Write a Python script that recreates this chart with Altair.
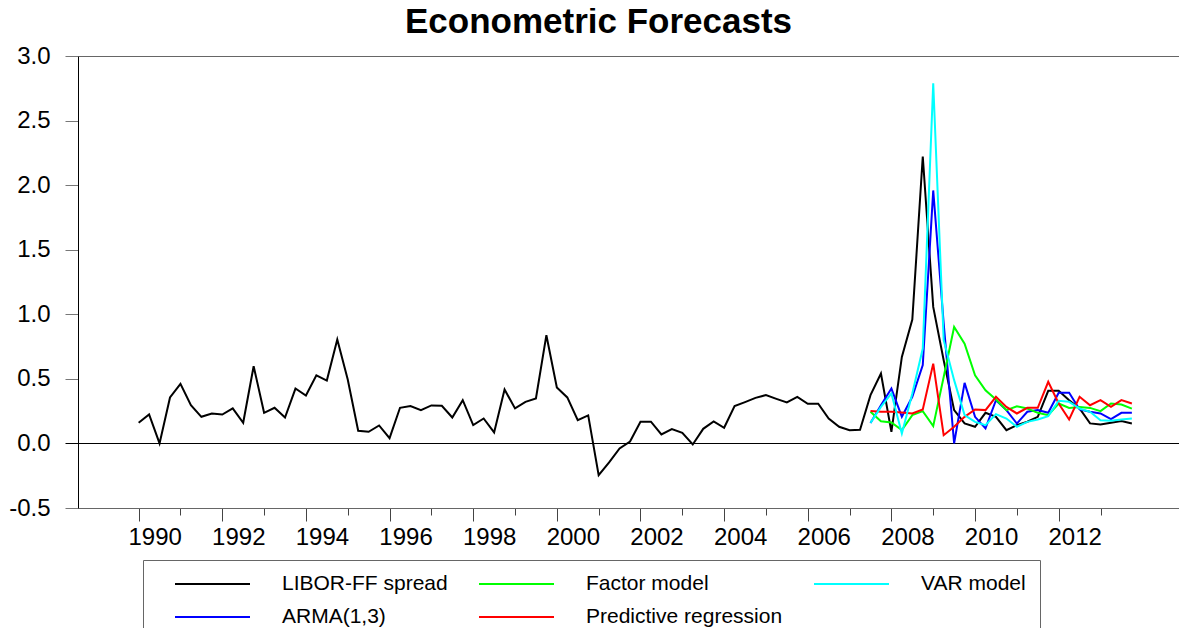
import altair as alt
import pandas as pd

START_YEAR = 1990
FC_START = 70  # index of first forecast quarter (2007Q3)

libor = [0.160, 0.224, 0.000, 0.356, 0.461, 0.296, 0.206, 0.232, 0.224, 0.271,
         0.160, 0.598, 0.237, 0.276, 0.201, 0.425, 0.371, 0.528, 0.487, 0.804,
         0.495, 0.098, 0.090, 0.139, 0.041, 0.276, 0.289, 0.258, 0.294, 0.291,
         0.201, 0.335, 0.142, 0.193, 0.085, 0.418, 0.271, 0.322, 0.348, 0.838,
         0.433, 0.356, 0.180, 0.217, -0.245, -0.147, -0.039, 0.015, 0.168, 0.168,
         0.070, 0.111, 0.082, -0.008, 0.113, 0.170, 0.121, 0.289, 0.320, 0.353,
         0.374, 0.345, 0.317, 0.361, 0.307, 0.307, 0.193, 0.129, 0.103, 0.106,
         0.374, 0.541, 0.090, 0.670, 0.959, 2.222, 1.057, 0.644, 0.258, 0.155,
         0.129, 0.237, 0.206, 0.103, 0.142, 0.168, 0.206, 0.407, 0.407, 0.335,
         0.271, 0.155, 0.147, 0.160, 0.173, 0.155]

arma = [0.159, 0.296, 0.425, 0.206, 0.361, 0.606, 1.959, 0.930, 0.000, 0.469,
        0.206, 0.116, 0.335, 0.258, 0.154, 0.245, 0.258, 0.237, 0.392, 0.392,
        0.263, 0.245, 0.232, 0.188, 0.237, 0.237]

factor = [0.245, 0.172, 0.162, 0.103, 0.219, 0.250, 0.134, 0.515, 0.902, 0.773,
          0.528, 0.412, 0.340, 0.258, 0.288, 0.270, 0.237, 0.219, 0.309, 0.275,
          0.283, 0.275, 0.250, 0.309, 0.301, 0.270]

predictive = [0.252, 0.245, 0.245, 0.240, 0.232, 0.263, 0.618, 0.064, 0.129, 0.206,
              0.263, 0.258, 0.361, 0.283, 0.232, 0.276, 0.276, 0.477, 0.309, 0.185,
              0.361, 0.296, 0.335, 0.283, 0.335, 0.309]

var_model = [0.159, 0.283, 0.387, 0.077, 0.387, 0.735, 2.789, 0.800, 0.490, 0.219,
             0.167, 0.141, 0.227, 0.193, 0.129, 0.167, 0.185, 0.211, 0.330, 0.322,
             0.270, 0.245, 0.180, 0.175, 0.185, 0.193]

# legend is filled column by column (2 rows)
legend_order = ["LIBOR-FF spread", "ARMA(1,3)", "Factor model", "Predictive regression", "VAR model"]
legend_colors = ["#000000", "#0000FF", "#00FF00", "#FF0000", "#00FFFF"]
y_ticks = [-0.5, 0.0, 0.5, 1.0, 1.5, 2.0, 2.5, 3.0]
x_ticks = list(range(1990, 2014))

rows = []
for i, v in enumerate(libor):
    rows.append({"t": START_YEAR + i / 4, "v": v, "series": "LIBOR-FF spread"})
for name, arr in [("ARMA(1,3)", arma), ("Factor model", factor),
                  ("Predictive regression", predictive), ("VAR model", var_model)]:
    for j, v in enumerate(arr):
        rows.append({"t": START_YEAR + (FC_START + j) / 4, "v": v, "series": name})
df = pd.DataFrame(rows)

FONT = "Liberation Sans"

x_scale = alt.Scale(domain=[1988.55, 2014.877], nice=False, zero=False)
y_scale = alt.Scale(domain=[-0.5, 3.0], nice=False, zero=False)

x_axis = alt.Axis(values=x_ticks, format="d",
                  labelExpr="datum.value % 2 == 0 ? datum.label : ''",
                  labelFontSize=24, labelFont=FONT, labelColor="black",
                  labelOffset=16, labelPadding=4,
                  tickSize={"condition": {"test": "datum.value % 2 == 0", "value": 13}, "value": 7},
                  tickColor="#444", domainColor="#666", title=None, grid=False,
                  labelFlush=False, labelOverlap=False, labelBound=False)
y_axis = alt.Axis(values=y_ticks, format=".1f",
                  labelExpr="replace(datum.label, '\u2212', '-')",
                  labelFontSize=24, labelFont=FONT,
                  labelColor="black", tickSize=13, labelPadding=15,
                  tickColor={"condition": {"test": "datum.value == 0", "value": "black"}, "value": "#777"},
                  domainColor="black", title=None,
                  grid=True, gridWidth=1,
                  gridColor={"condition": {"test": "datum.value == 0", "value": "black"}, "value": "#666"},
                  gridOpacity={"condition": {"test": "datum.value == 0 || datum.value == 3", "value": 1}, "value": 0},
                  labelFlush=False, labelOverlap=False, labelBound=False)

chart = alt.Chart(df).mark_line(strokeWidth=2).encode(
    x=alt.X("t:Q", scale=x_scale, axis=x_axis),
    y=alt.Y("v:Q", scale=y_scale, axis=y_axis),
    color=alt.Color("series:N",
                    scale=alt.Scale(domain=legend_order, range=legend_colors),
                    legend=alt.Legend(title=None, orient="none", legendX=65, legendY=504,
                                      columns=3, symbolType="stroke", symbolSize=5625,
                                      symbolStrokeWidth=2, clipHeight=20, symbolOffset=17,
                                      labelOffset=31, labelFontSize=21, labelFont=FONT,
                                      labelColor="black", labelLimit=400, padding=14,
                                      columnPadding=13, rowPadding=12, strokeColor="#666",
                                      fillColor="white")),
).properties(
    width=1101, height=452,
    autosize=alt.AutoSizeParams(type="none"),
    padding={"left": 70, "top": 48, "right": 0, "bottom": 120},
    title=alt.TitleParams("Econometric Forecasts", fontSize=35, font=FONT, fontWeight="bold",
                          anchor="middle", dx=-30, color="black"),
).configure_view(stroke="transparent")

chart.save("out.html", embed_options={"renderer": "svg", "actions": False})
